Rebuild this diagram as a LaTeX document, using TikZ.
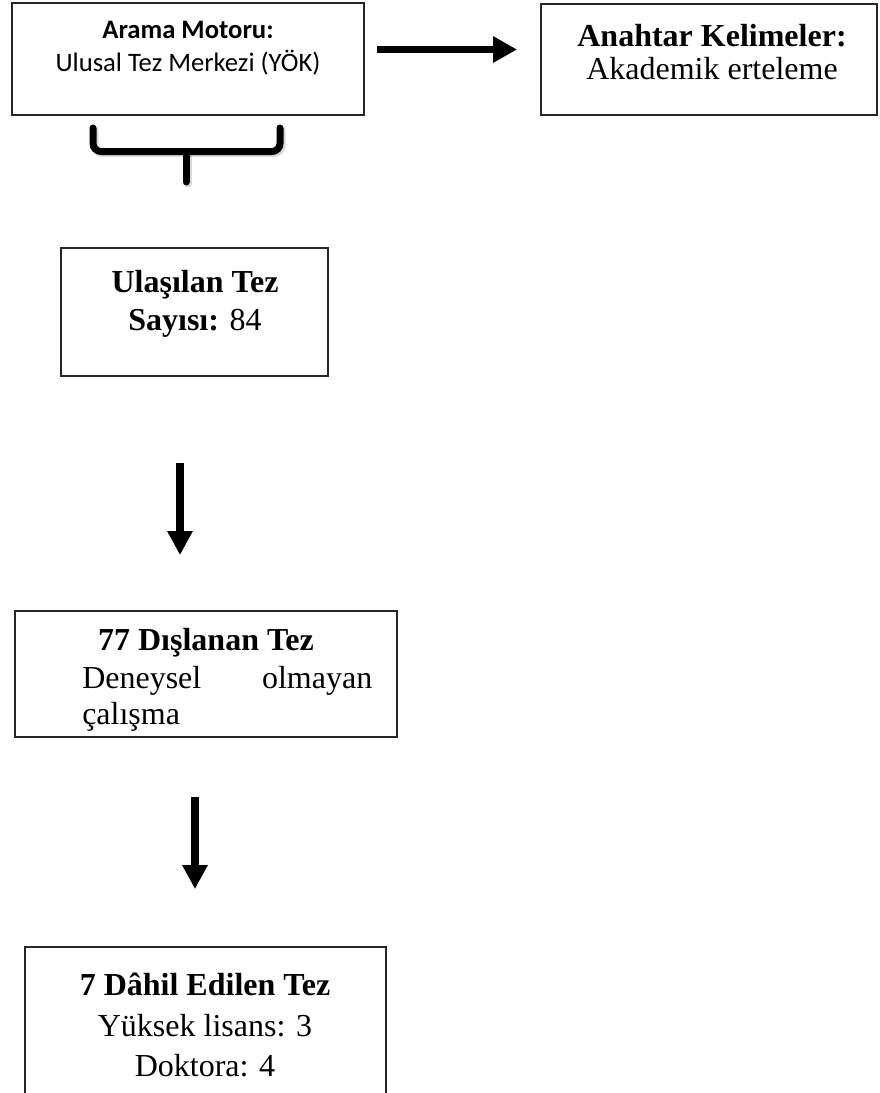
\documentclass[tikz,border=0pt]{standalone}
\usepackage{fontspec}
\setmainfont{Liberation Serif}
\newfontfamily\calibri{Carlito}
\usetikzlibrary{arrows.meta,fit}

\tikzset{
  kutu/.style={draw=black!85, line width=0.9pt, inner sep=0pt},
  yazi/.style={font=\fontsize{24}{28.5}\selectfont, align=center, inner sep=0pt, anchor=north},
  sansyazi/.style={font=\calibri\fontsize{20}{24.75}\selectfont, align=center, inner sep=0pt, anchor=north},
  okyatay/.style={line width=5.25pt, -{Triangle[length=18pt,width=18.75pt]}},
  okdikey/.style={line width=6pt, -{Triangle[length=18pt,width=18pt]}},
  parantez/.style={line width=5.25pt, rounded corners=6pt, line cap=round},
  golge/.style={draw=black, opacity=0.15, xshift=1.5pt, yshift=-1.5pt}
}

\begin{document}
\begin{tikzpicture}[x=0.75pt,y=-0.75pt]
  \useasboundingbox (0,0) rectangle (879,1093);
  \clip (0,0) rectangle (879,1093);

  % kutular
  \node[kutu, fit={(12,3) (364,115)}] (arama) {};
  \node[kutu, fit={(541,4) (877,115)}] (anahtar) {};
  \node[kutu, fit={(61,248) (328,376)}] (ulasilan) {};
  \node[kutu, fit={(15,611) (397,737)}] (dislanan) {};
  \node[kutu, fit={(25,947) (386,1120)}] (dahil) {};

  % yazilar
  \node[sansyazi] (aramayazi) at (188,21) {\textbf{Arama Motoru:}\\Ulusal Tez Merkezi (YÖK)};
  \node[yazi, font=\fontsize{24}{25}\selectfont] (anahtaryazi) at (712,24) {\textbf{Anahtar Kelimeler:}\\Akademik erteleme};
  \node[yazi] (ulasilanyazi) at (195,270) {\textbf{Ulaşılan Tez}\\\textbf{Sayısı:} 84};
  \node[yazi] (dislananbaslik) at (206,628) {\textbf{77 Dışlanan Tez}};
  \node[yazi, anchor=north west, text width=217.5pt, align=left, font=\fontsize{24}{27}\selectfont] (dislananyazi) at (82,666) {Deneysel\hfill olmayan\\çalışma};
  \node[yazi, font=\fontsize{24}{30.4}\selectfont] (dahilyazi) at (205,973) {\textbf{7 Dâhil Edilen Tez}\\Yüksek lisans: 3\\Doktora: 4};

  % oklar
  \coordinate (sag1) at (377,49.5);
  \coordinate (sag2) at (517,49.5);
  \coordinate (asagi1) at (180,463);
  \coordinate (asagi2) at (180,555);
  \coordinate (asagi3) at (195,797);
  \coordinate (asagi4) at (195,889);

  \draw[okyatay, golge] (sag1) -- (sag2);
  \draw[okyatay] (sag1) -- (sag2);
  \draw[okdikey, golge] (asagi1) -- (asagi2);
  \draw[okdikey] (asagi1) -- (asagi2);
  \draw[okdikey, golge] (asagi3) -- (asagi4);
  \draw[okdikey] (asagi3) -- (asagi4);

  % parantez
  \draw[parantez, golge] (93,128) -- (93,151.5) -- (280,151.5) -- (280,128);
  \draw[parantez, golge] (186,151.5) -- (186,182);
  \draw[parantez] (93,128) -- (93,151.5) -- (280,151.5) -- (280,128);
  \draw[parantez] (186,151.5) -- (186,182);
\end{tikzpicture}
\end{document}
